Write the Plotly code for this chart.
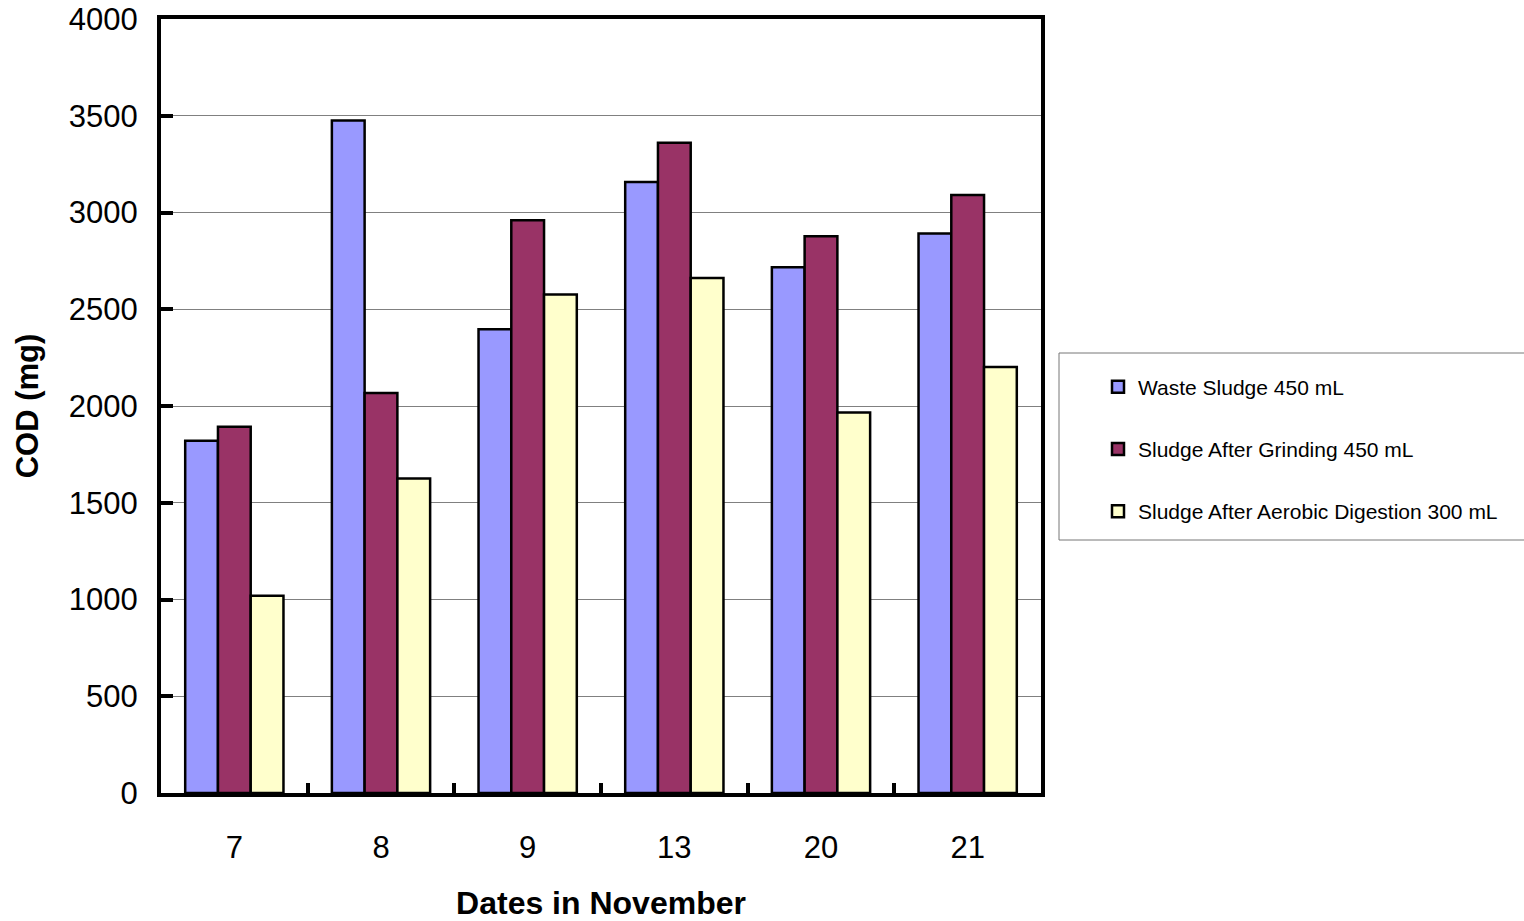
import plotly.graph_objects as go

# Sampling dates in November
dates = ["7", "8", "9", "13", "20", "21"]

# COD (mg) per sample type
waste_sludge = [1820, 3475, 2397, 3158, 2717, 2891]
after_grinding = [1893, 2067, 2960, 3360, 2877, 3090]
after_digestion = [1020, 1625, 2576, 2662, 1967, 2201]

series_names = [
    "Waste Sludge 450 mL",
    "Sludge After Grinding 450 mL",
    "Sludge After Aerobic Digestion 300 mL",
]
series_colors = ["#9999FF", "#993366", "#FFFFCC"]
y_ticks = [0, 500, 1000, 1500, 2000, 2500, 3000, 3500, 4000]

fig = go.Figure()
for i, (name, vals, col) in enumerate(zip(series_names,
                                          [waste_sludge, after_grinding, after_digestion],
                                          series_colors)):
    fig.add_trace(go.Bar(
        x=dates, y=vals, name=name, legendgroup=f"g{i}",
        marker=dict(color=col, line=dict(color="black", width=2.5)),
    ))

font_family = "Liberation Sans, Arial, sans-serif"

# Plot area in pixels: x 161..1041, y 19..793
PL, PR, PT, PB = 161, 1041, 19, 793
pw, ph = PR - PL, PB - PT


def px_x(v):
    return (v - PL) / pw


def px_y(v):
    return (PB - v) / ph


fig.update_layout(
    width=1524, height=921,
    margin=dict(l=PL, r=1524 - PR, t=PT, b=921 - PB, autoexpand=False),
    paper_bgcolor="white", plot_bgcolor="white",
    barmode="group", bargap=0.33, bargroupgap=0,
    font=dict(family=font_family, color="black"),
    showlegend=True,
    legend=dict(
        x=px_x(1062), y=px_y(449), xanchor="left", yanchor="middle",
        borderwidth=0, bgcolor="rgba(0,0,0,0)",
        font=dict(size=21, family=font_family),
        traceorder="grouped", tracegroupgap=32,
        indentation=36,
    ),
    shapes=[dict(
        type="rect", xref="paper", yref="paper",
        x0=px_x(1059), x1=px_x(1540), y0=px_y(540), y1=px_y(353),
        line=dict(color="#777777", width=1), fillcolor="rgba(0,0,0,0)",
        layer="below",
    )],
)

fig.update_xaxes(
    type="category", automargin=False,
    showline=True, linecolor="black", linewidth=4, mirror=True,
    ticks="inside", tickson="boundaries", ticklen=10, tickwidth=4, tickcolor="black",
    tickfont=dict(size=31, family=font_family),
    ticklabelstandoff=24,
    title=dict(text="<b>Dates in November</b>", font=dict(size=32, family=font_family), standoff=32),
    showgrid=False,
)

fig.update_yaxes(
    range=[0, 4000], tickvals=y_ticks, automargin=False,
    showline=True, linecolor="black", linewidth=4, mirror=True,
    ticks="inside", ticklen=12, tickwidth=4, tickcolor="black",
    tickfont=dict(size=31, family=font_family),
    ticklabelstandoff=13,
    showgrid=True, gridcolor="#808080", gridwidth=1,
    zeroline=False,
    title=dict(text="<b>COD (mg)</b>", font=dict(size=31, family=font_family), standoff=22),
)

fig.write_html("out.html")
